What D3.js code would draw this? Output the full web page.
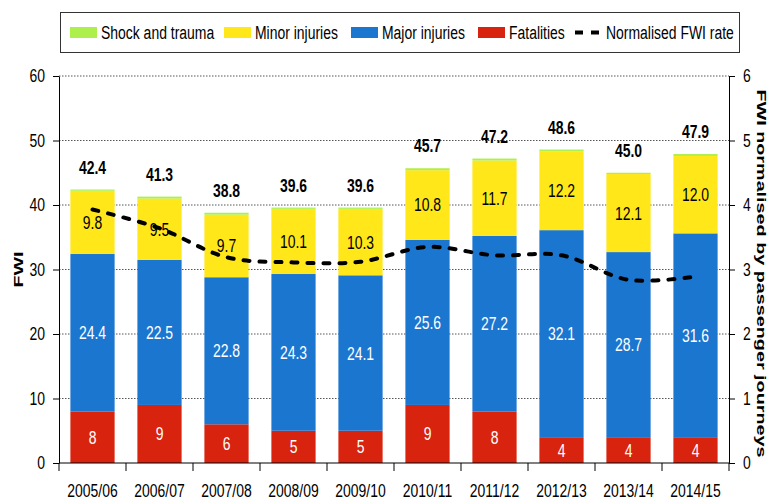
<!DOCTYPE html>
<html>
<head>
<meta charset="utf-8">
<script src="https://cdn.jsdelivr.net/npm/d3@7"></script>
<style>
  html, body { margin: 0; padding: 0; background: #fff; }
  svg { display: block; }
  text { font-family: "Liberation Sans", Arial, sans-serif; }
</style>
</head>
<body>
<svg id="chart" width="768" height="500"></svg>
<script>
const categories = ["2005/06","2006/07","2007/08","2008/09","2009/10","2010/11","2011/12","2012/13","2013/14","2014/15"];
const fatalities = [8, 9, 6, 5, 5, 9, 8, 4, 4, 4];
const majorInjuries = [24.4, 22.5, 22.8, 24.3, 24.1, 25.6, 27.2, 32.1, 28.7, 31.6];
const minorInjuries = [9.8, 9.5, 9.7, 10.1, 10.3, 10.8, 11.7, 12.2, 12.1, 12.0];
const shockTrauma = [0.2, 0.3, 0.3, 0.2, 0.2, 0.3, 0.3, 0.3, 0.2, 0.3];
const totals = ["42.4","41.3","38.8","39.6","39.6","45.7","47.2","48.6","45.0","47.9"];
const normalisedRate = [3.93, 3.64, 3.19, 3.11, 3.12, 3.35, 3.22, 3.22, 2.84, 2.89];
const leftTicks = [0, 10, 20, 30, 40, 50, 60];
const rightTicks = [0, 1, 2, 3, 4, 5, 6];
const seriesNames = ["Shock and trauma", "Minor injuries", "Major injuries", "Fatalities"];
const lineName = "Normalised FWI rate";

const colors = {fat: "#d8230f", major: "#1b76d0", minor: "#ffe71a", shock: "#adf04e"};
const SQ = 0.775; // horizontal squeeze of text, as in the reference
const FS = 18;

const svg = d3.select("#chart");
const L = 59, R = 729, T = 76, B = 463;

const x = d3.scaleBand().domain(categories).range([L, R]).paddingInner(0.34).paddingOuter(0.17);
const y = d3.scaleLinear().domain([0, 60]).range([B, T]);
const y2 = d3.scaleLinear().domain([0, 6]).range([B, T]);

function sqText(sel, fx, fy) {
  return sel.attr("transform", (d, i) => `translate(${fx(d, i)},${fy(d, i)}) scale(${SQ},1)`);
}

// gridlines
svg.append("g").selectAll("line").data(leftTicks.filter(d => d > 0)).join("line")
  .attr("x1", L).attr("x2", R).attr("y1", d => y(d)).attr("y2", d => y(d))
  .attr("stroke", "#555").attr("stroke-width", 1).attr("stroke-dasharray", "1.5,1.5");

// stacked data
const rows = categories.map((c, i) => ({cat: c, fat: fatalities[i], major: majorInjuries[i], minor: minorInjuries[i], shock: shockTrauma[i]}));
const keys = ["fat", "major", "minor", "shock"];
const stacked = d3.stack().keys(keys)(rows);

const gBars = svg.append("g");
stacked.forEach(layer => {
  gBars.append("g").selectAll("rect").data(layer).join("rect")
    .attr("x", d => x(d.data.cat))
    .attr("width", x.bandwidth())
    .attr("y", d => y(d[1]))
    .attr("height", d => y(d[0]) - y(d[1]))
    .attr("fill", colors[layer.key]);
});

// segment labels
const labelSpec = [{key: "fat", color: "#fff", fmt: v => String(v)},
                   {key: "major", color: "#fff", fmt: v => v.toFixed(1)},
                   {key: "minor", color: "#000", fmt: v => v.toFixed(1)}];
labelSpec.forEach(spec => {
  const layer = stacked.find(s => s.key === spec.key);
  sqText(svg.append("g").selectAll("text").data(layer).join("text"),
      d => x(d.data.cat) + x.bandwidth() / 2,
      d => (y(d[0]) + y(d[1])) / 2)
    .attr("dy", "0.36em")
    .attr("text-anchor", "middle")
    .attr("font-size", FS)
    .attr("fill", spec.color)
    .text(d => spec.fmt(d.data[spec.key]));
});

// totals
const topLayer = stacked[stacked.length - 1];
sqText(svg.append("g").selectAll("text").data(topLayer).join("text"),
    d => x(d.data.cat) + x.bandwidth() / 2,
    d => y(d[1]) - 16)
  .attr("text-anchor", "middle")
  .attr("font-size", FS)
  .attr("font-weight", "bold")
  .attr("fill", "#000")
  .text((d, i) => totals[i]);

// line
const line = d3.line()
  .x((d, i) => x(categories[i]) + x.bandwidth() / 2)
  .y(d => y2(d))
  .curve(d3.curveCatmullRom.alpha(0.5));
svg.append("path").datum(normalisedRate)
  .attr("d", line)
  .attr("fill", "none")
  .attr("stroke", "#000")
  .attr("stroke-width", 4)
  .attr("stroke-linecap", "round")
  .attr("stroke-dasharray", "6,10");

// axes
const axL = svg.append("g").attr("transform", `translate(${L},0)`)
  .call(d3.axisLeft(y).tickValues(leftTicks).tickFormat(d3.format("d")).tickSize(6).tickPadding(8).tickSizeOuter(0));
const axR = svg.append("g").attr("transform", `translate(${R},0)`)
  .call(d3.axisRight(y2).tickValues(rightTicks).tickFormat(d3.format("d")).tickSize(6).tickPadding(8).tickSizeOuter(0));
[axL, axR].forEach(a => {
  a.attr("font-family", null);
  a.selectAll("text").attr("font-size", FS).attr("fill", "#000")
    .attr("x", function() { return +d3.select(this).attr("x") / SQ; })
    .attr("transform", `scale(${SQ},1)`);
  a.selectAll("line").attr("stroke", "#000");
  a.select(".domain").attr("stroke", "#000");
});

const axB = svg.append("g").attr("transform", `translate(0,${B})`)
  .call(d3.axisBottom(x).tickSize(0).tickPadding(21).tickSizeOuter(0));
axB.attr("font-family", null);
axB.selectAll("text").attr("font-size", FS).attr("fill", "#000").attr("transform", `scale(${SQ},1)`)
  .attr("x", function() { return 0; });
axB.selectAll(".tick").each(function() {
  const g = d3.select(this);
  const tx = g.attr("transform");
  g.select("text").attr("transform", `scale(${SQ},1)`);
});
axB.select(".domain").attr("d", `M${L},0H${R}`).attr("stroke", "#000");
const bounds = categories.map(c => x(c) - x.step() * x.paddingInner() / 2).concat([R]);
axB.append("g").selectAll("line").data(bounds).join("line")
  .attr("x1", d => d).attr("x2", d => d).attr("y1", 0).attr("y2", 8)
  .attr("stroke", "#000");

// axis titles
svg.append("text")
  .attr("transform", `translate(23,${(T + B) / 2}) rotate(-90)`)
  .attr("text-anchor", "middle")
  .attr("font-family", "DejaVu Sans")
  .attr("font-weight", "bold")
  .attr("font-size", 12)
  .attr("textLength", 36).attr("lengthAdjust", "spacingAndGlyphs")
  .text("FWI");
svg.append("text")
  .attr("transform", `translate(757,${(T + B) / 2 + 4}) rotate(90)`)
  .attr("text-anchor", "middle")
  .attr("font-family", "DejaVu Sans")
  .attr("font-weight", "bold")
  .attr("font-size", 12)
  .attr("textLength", 368).attr("lengthAdjust", "spacingAndGlyphs")
  .text("FWI normalised by passenger journeys");

// legend
const lg = svg.append("g");
lg.append("rect").attr("x", 60.5).attr("y", 12.5).attr("width", 679).attr("height", 40)
  .attr("fill", "#fff").attr("stroke", "#333").attr("stroke-width", 1);
const legendItems = [
  {name: seriesNames[0], color: colors.shock, x: 70},
  {name: seriesNames[1], color: colors.minor, x: 224},
  {name: seriesNames[2], color: colors.major, x: 351},
  {name: seriesNames[3], color: colors.fat, x: 478}
];
legendItems.forEach(it => {
  lg.append("rect").attr("x", it.x).attr("y", 27).attr("width", 27).attr("height", 11).attr("fill", it.color);
  lg.append("text").attr("transform", `translate(${it.x + 31},32.5) scale(${SQ},1)`).attr("dy", "0.36em")
    .attr("font-size", FS).attr("fill", "#000").text(it.name);
});
lg.append("line").attr("x1", 575).attr("x2", 599).attr("y1", 32.5).attr("y2", 32.5)
  .attr("stroke", "#000").attr("stroke-width", 4).attr("stroke-dasharray", "8,8");
lg.append("text").attr("transform", `translate(606,32.5) scale(${SQ},1)`).attr("dy", "0.36em")
  .attr("font-size", FS).attr("fill", "#000").text(lineName);
</script>
</body>
</html>
